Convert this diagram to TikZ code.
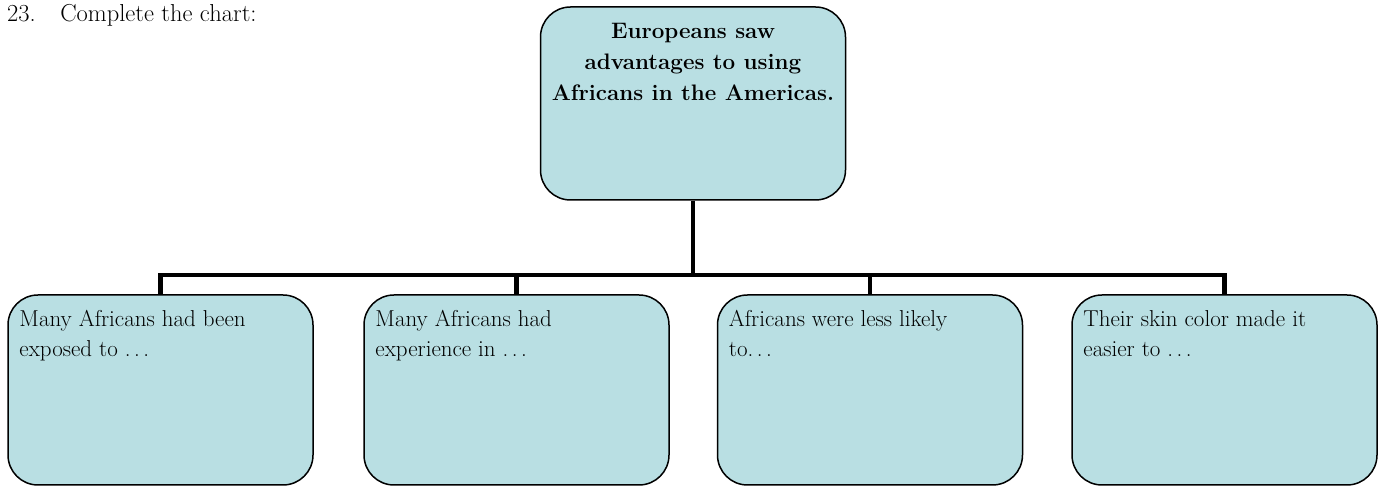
\documentclass[tikz,border=0pt]{standalone}
\usepackage{fontspec}
\setmainfont{Latin Modern Roman}
\definecolor{boxfill}{RGB}{185,223,227}
\newcommand{\wdots}{.\kern3.5pt.\kern3.5pt.}
\begin{document}
\begin{tikzpicture}[x=1pt,y=1pt,
  box/.style={draw=black, line width=1.5pt, fill=boxfill, rounded corners=30pt,
    minimum width=305pt, inner sep=0pt},
  topbox/.style={box, minimum height=193pt},
  leafbox/.style={box, minimum height=190pt},
  conn/.style={line width=4.7pt, line join=miter},
  leaftxt/.style={font=\fontsize{23}{30}\selectfont, align=left, anchor=north west, inner sep=0pt},
  toptxt/.style={font=\fontsize{22.4}{31}\selectfont\bfseries, align=center, anchor=north, inner sep=0pt},
  titletxt/.style={font=\fontsize{24.5}{28}\selectfont, anchor=base west, inner sep=0pt}
]
\useasboundingbox (0,0) rectangle (1385,487);
% title
\node[titletxt] (title) at (7,465) {23.\hspace{1em}Complete the chart:};
% top box
\node[topbox] (top) at (693,383.5) {};
\node[toptxt] (toplabel) at ([yshift=-16.5pt]top.north) {Europeans saw\\advantages to using\\Africans in the Americas.};
% leaf boxes
\node[leafbox] (b1) at (160.5,97) {};
\node[leafbox] (b2) at (516.5,97) {};
\node[leafbox] (b3) at (870,97) {};
\node[leafbox] (b4) at (1224.5,97) {};
\node[leaftxt] (t1) at ([xshift=12pt,yshift=-16pt]b1.north west) {Many Africans had been\\exposed to \wdots};
\node[leaftxt] (t2) at ([xshift=12pt,yshift=-16pt]b2.north west) {Many Africans had\\experience in \wdots};
\node[leaftxt] (t3) at ([xshift=12pt,yshift=-16pt]b3.north west) {Africans were less likely\\to\wdots};
\node[leaftxt] (t4) at ([xshift=12pt,yshift=-16pt]b4.north west) {Their skin color made it\\easier to \wdots};
% connectors
\coordinate (bus) at (693,212);
\draw[conn] (top.south) -- (bus);
\draw[conn] (b1.north) |- (bus) -| (b4.north);
\draw[conn] (b2.north) -- (b2.north |- bus);
\draw[conn] (b3.north) -- (b3.north |- bus);
\end{tikzpicture}
\end{document}
